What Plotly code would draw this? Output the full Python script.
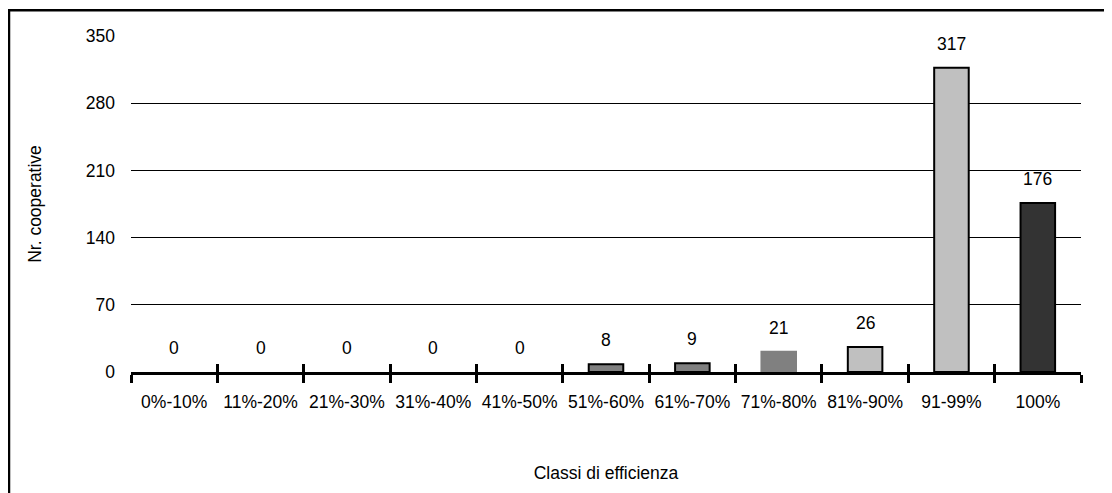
import plotly.graph_objects as go

categories = ["0%-10%", "11%-20%", "21%-30%", "31%-40%", "41%-50%", "51%-60%",
              "61%-70%", "71%-80%", "81%-90%", "91-99%", "100%"]
values = [0, 0, 0, 0, 0, 8, 9, 21, 26, 317, 176]
bar_colors = ["#808080"] * 5 + ["#808080", "#808080", "#808080", "#C0C0C0", "#C0C0C0", "#333333"]
line_colors = ["#000000"] * 7 + ["#808080"] + ["#000000"] * 3
y_ticks = [0, 70, 140, 210, 280, 350]

FONT = "Liberation Sans, Arial, sans-serif"
FS = 17.5

line_widths = [0 if v == 0 else 2 for v in values]

W, H = 1104, 485
ML, MT, PW, PH = 123, 28, 950, 336

fig = go.Figure()
fig.add_trace(go.Bar(
    x=categories, y=values,
    marker=dict(color=bar_colors, line=dict(color=line_colors, width=line_widths)),
    hoverinfo="skip", showlegend=False,
))
# invisible trace to build the overlaid axis used for the inner half of the crossing ticks
fig.add_trace(go.Scatter(x=categories, y=[0] * len(categories), xaxis="x2", mode="markers",
                         marker=dict(opacity=0), hoverinfo="skip", showlegend=False))

for c, v in zip(categories, values):
    fig.add_annotation(x=c, y=v, text=str(v), showarrow=False, yanchor="middle", yshift=24,
                       font=dict(family=FONT, size=FS, color="#000"))

fig.update_layout(
    width=W, height=H,
    margin=dict(l=ML, r=W - ML - PW, t=MT, b=H - MT - PH),
    paper_bgcolor="white", plot_bgcolor="white",
    font=dict(family=FONT, size=FS, color="#000"),
    bargap=0.6,
    xaxis=dict(
        type="category", categoryorder="array", categoryarray=categories,
        range=[-0.5, 10.5], automargin=False, tickangle=0,
        showline=True, linecolor="#000", linewidth=2.5,
        ticks="outside", ticklen=8, tickwidth=2.5, tickcolor="#000",
        tickson="boundaries", showgrid=False, zeroline=False,
        title=dict(text="Classi di efficienza", standoff=56, font=dict(family=FONT, size=FS)),
        tickfont=dict(family=FONT, size=FS),
        ticklabelstandoff=12,
    ),
    xaxis2=dict(
        type="category", categoryorder="array", categoryarray=categories,
        range=[-0.5, 10.5], overlaying="x", anchor="y", side="bottom",
        ticks="inside", ticklen=8, tickwidth=2.5, tickcolor="#000",
        tickson="boundaries", showticklabels=False, showgrid=False, showline=False,
        zeroline=False, automargin=False,
    ),
    yaxis=dict(
        range=[0, 350], tickvals=y_ticks, ticks="", showline=False, automargin=False,
        showgrid=True, gridcolor="#000", gridwidth=1, zeroline=False,
        ticklabelstandoff=15,
        title=dict(text="Nr. cooperative", standoff=39, font=dict(family=FONT, size=FS)),
        tickfont=dict(family=FONT, size=FS),
    ),
    shapes=[dict(type="rect", xref="paper", yref="paper",
                 x0=(1 - ML) / PW, x1=1.3, y0=-0.6, y1=1 + (MT - 2.3) / PH,
                 line=dict(color="#000", width=2.5), fillcolor="rgba(0,0,0,0)", layer="above")],
)

fig.write_html("out.html")
